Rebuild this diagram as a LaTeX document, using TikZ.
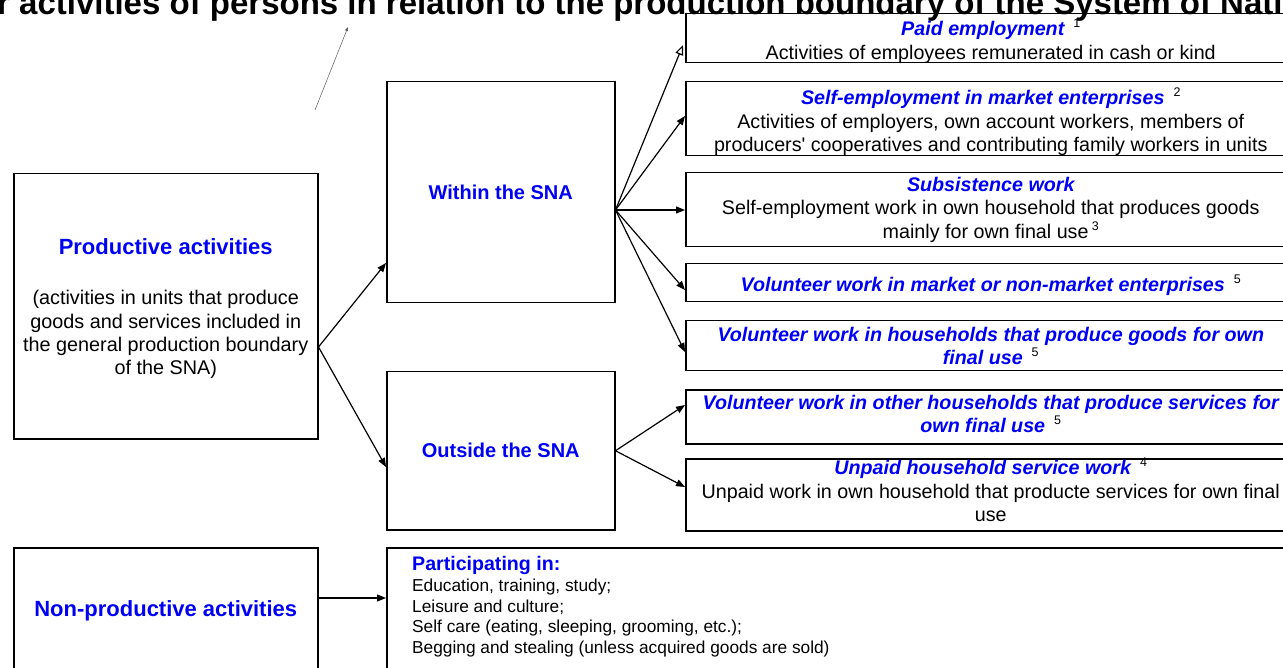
\documentclass[tikz,border=0pt]{standalone}
\usepackage{fontspec}
\setmainfont{Liberation Sans}
\usetikzlibrary{arrows.meta,calc}
\definecolor{sblue}{RGB}{0,0,245}
\newcommand\supnum[1]{\hspace{9pt}{\normalfont\color{black}\fontsize{12.5}{12.5}\selectfont\raisebox{8pt}{#1}}}
\newcommand\hd[1]{{\color{sblue}\bfseries\itshape #1}}
\begin{document}
\begin{tikzpicture}[x=1pt,y=-1pt,
  box/.style={draw=black, line width=1.5pt, inner sep=0pt, align=center, anchor=north west},
  rbox/.style={box, minimum width=610pt, font=\fontsize{19.7}{23.5}\selectfont},
  rtxt/.style={inner sep=0pt, align=center, font=\fontsize{19.7}{23.5}\selectfont},
  midbox/.style={box, minimum width=228pt, font=\fontsize{20}{24}\selectfont\bfseries\color{sblue}},
  arr/.style={-{Triangle[length=9pt,width=7pt]}, line width=1.2pt},
  oarr/.style={-{Triangle[open,length=10pt,width=8pt]}, line width=1.2pt},
  garr/.style={-{Triangle[length=4pt,width=3pt]}, line width=0.5pt, draw=gray!70!black}
  ]
\useasboundingbox (0,0) rectangle (1283,668);
\clip (0,0) rectangle (1283,668);

% title
\node[anchor=base west, inner sep=0pt, font=\fontsize{33}{33}\selectfont\bfseries] (title) at (-3,15)
  {r activities of persons in relation to the production boundary of the System of Nati};

% thin gray arrow
\coordinate (g1) at (315,110);
\coordinate (g2) at (348,27);
\draw[garr] (g1) -- (g2);

% left boxes
\node[box, minimum width=304pt, minimum height=265pt] (prod) at (13,173) {};
\node[rtxt, font=\fontsize{19.8}{23.3}\selectfont] (prodtext) at ($(prod.center)+(0,2.5)$)
  {{\fontsize{22}{23.3}\selectfont\color{sblue}\bfseries Productive activities}\\[27pt]
   (activities in units that produce\\ goods and services included in\\ the general production boundary\\ of the SNA)};
\node[box, minimum width=304pt, minimum height=126pt, font=\fontsize{22}{26}\selectfont\bfseries\color{sblue}] (nonprod) at (13,547)
  {Non-productive activities};

% middle boxes
\node[midbox, minimum height=221pt] (within) at (386,81) {Within the SNA};
\node[midbox, minimum height=158pt] (outside) at (386,371) {Outside the SNA};

% participating box
\node[box, minimum width=909pt, minimum height=133pt] (part) at (386,547) {};
\node[anchor=north west, inner sep=0pt, align=left, font=\fontsize{17.3}{20.6}\selectfont] (parttext) at (412,556)
  {{\fontsize{19.6}{20.6}\selectfont\color{sblue}\bfseries Participating in:}\\[0.5pt]
   Education, training, study;\\
   Leisure and culture;\\
   Self care (eating, sleeping, grooming, etc.);\\
   Begging and stealing (unless acquired goods are sold)};

% right boxes
\node[rbox, minimum height=49pt] (paid) at (685,13) {};
\node[rtxt] (paidtext) at ($(paid.center)+(0,3)$)
  {\hd{Paid employment}\supnum{1}\\ Activities of employees remunerated in cash or kind};
\node[rbox, minimum height=74pt] (self) at (685,81) {};
\node[rtxt] (selftext) at ($(self.center)+(0,3)$)
  {\hd{Self-employment in market enterprises}\supnum{2}\\
   Activities of employers, own account workers, members of\\
   producers\textquotesingle\ cooperatives and contributing family workers in units};
\node[rbox, minimum height=74pt] (subs) at (685,172)
  {\hd{Subsistence work}\\
   Self-employment work in own household that produces goods\\
   mainly for own final use\,\raisebox{8pt}{\fontsize{12.5}{12.5}\selectfont 3}};
\node[rbox, minimum height=38pt] (volm) at (685,263) {};
\node[rtxt] (volmtext) at ($(volm.center)+(0,2)$)
  {\hd{Volunteer work in market or non-market enterprises}\supnum{5}};
\node[rbox, minimum height=50pt] (volh) at (685,320)
  {\hd{Volunteer work in households that produce goods for own}\\
   \hd{final use}\supnum{5}};
\node[rbox, minimum height=54pt] (volo) at (685,389) {};
\node[rtxt] (volotext) at ($(volo.center)+(0,-3)$)
  {\hd{Volunteer work in other households that produce services for}\\
   \hd{own final use}\supnum{5}};
\node[rbox, minimum height=72pt] (unpaid) at (685,458) {};
\node[rtxt] (unpaidtext) at ($(unpaid.center)+(0,-4.5)$)
  {\hd{Unpaid household service work}\supnum{4}\\
   Unpaid work in own household that producte services for own final\\
   use};

% connectors
\coordinate (psrc) at ($(prod.north east)+(0,174)$);
\draw[arr] (psrc) -- ($(within.north west)+(0,182)$);
\draw[arr] (psrc) -- ($(outside.north west)+(0,96)$);

\coordinate (wsrc) at ($(within.north east)+(0,129)$);
\draw[oarr] (wsrc) -- ($(paid.north west)+(-2,32)$);
\draw[arr] (wsrc) -- ($(self.north west)+(0,35)$);
\draw[arr] (wsrc) -- ($(subs.north west)+(0,38)$);
\draw[arr] (wsrc) -- ($(volm.north west)+(0,27)$);
\draw[arr] (wsrc) -- ($(volh.north west)+(0,32)$);

\draw[arr] (outside.east) -- ($(volo.north west)+(0,16)$);
\draw[arr] (outside.east) -- ($(unpaid.north west)+(0,29)$);

\draw[arr] ($(nonprod.north east)+(0,51)$) -- ($(part.north west)+(0,51)$);
\end{tikzpicture}
\end{document}
